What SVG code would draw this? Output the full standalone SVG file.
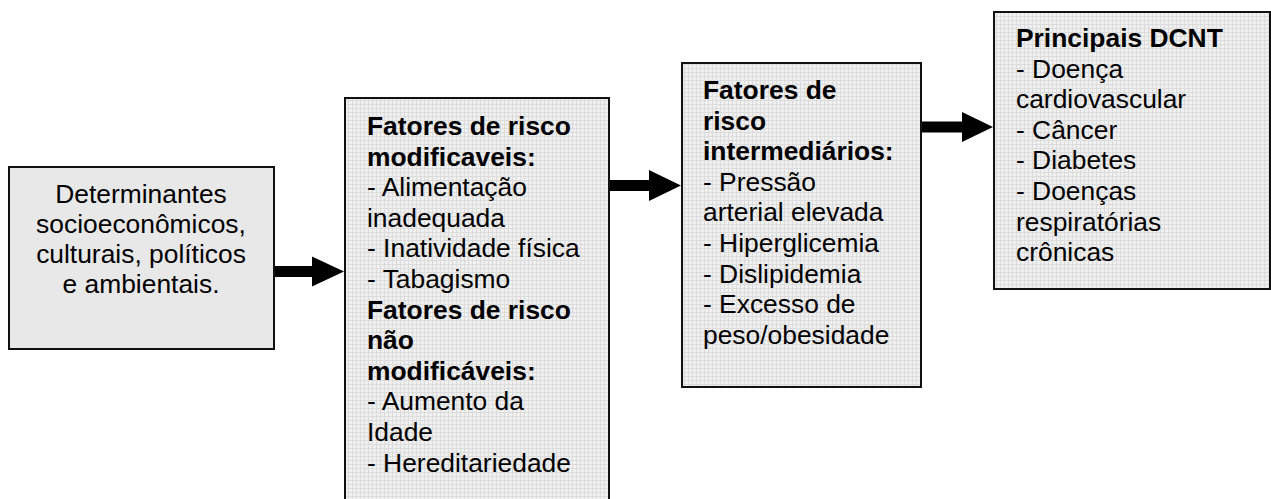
<svg xmlns="http://www.w3.org/2000/svg" width="1271" height="499" viewBox="0 0 1271 499">
<defs>
<pattern id="tex" width="4" height="4" patternUnits="userSpaceOnUse">
<rect width="4" height="4" fill="#f0f0f0"/>
<rect x="0" y="0" width="4" height="1" fill="#dcdcdc"/>
<rect x="0" y="0" width="1" height="4" fill="#dcdcdc"/>
</pattern>
<marker id="ah" markerWidth="32" markerHeight="31" refX="32" refY="15.5" orient="auto" markerUnits="userSpaceOnUse">
<path d="M0,0 L32,15.5 L0,31 Z" fill="#000"/>
</marker>
</defs>
<style>
.box{stroke:#111;stroke-width:2}
.t{font-family:"Liberation Sans",Arial,sans-serif;font-size:26.4px;fill:#000}
.b{font-weight:bold}
.c{text-anchor:middle}
.conn{stroke:#000;stroke-width:11;fill:none}
</style>
<g id="connectors">
<line class="conn" x1="275" y1="271.5" x2="313" y2="271.5"/>
<path d="M312,256.5 L344,271.5 L312,286.5 Z" fill="#000"/>
<line class="conn" x1="610" y1="185.5" x2="650" y2="185.5"/>
<path d="M649,170 L681,185.5 L649,201 Z" fill="#000"/>
<line class="conn" x1="922" y1="127" x2="963" y2="127"/>
<path d="M962,112 L993,127 L962,142 Z" fill="#000"/>
</g>
<g id="node1">
<rect class="box" x="9" y="167" width="265" height="182" fill="#e8e8e8"/>
<text class="t c" x="141" y="203">Determinantes</text>
<text class="t c" x="141" y="233">socioeconômicos,</text>
<text class="t c" x="141" y="263">culturais, políticos</text>
<text class="t c" x="141" y="293">e ambientais.</text>
</g>
<g id="node2">
<rect class="box" x="345" y="98" width="264" height="420" fill="url(#tex)"/>
<text class="t b" x="367" y="135">Fatores de risco</text>
<text class="t b" x="367" y="165.6">modificaveis:</text>
<text class="t" x="367" y="196.2">- Alimentação</text>
<text class="t" x="367" y="226.8">inadequada</text>
<text class="t" x="367" y="257.4">- Inatividade física</text>
<text class="t" x="367" y="288">- Tabagismo</text>
<text class="t b" x="367" y="318.6">Fatores de risco</text>
<text class="t b" x="367" y="349.2">não</text>
<text class="t b" x="367" y="379.8">modificáveis:</text>
<text class="t" x="367" y="410.4">- Aumento da</text>
<text class="t" x="367" y="441">Idade</text>
<text class="t" x="367" y="471.6">- Hereditariedade</text>
</g>
<g id="node3">
<rect class="box" x="682" y="63" width="239" height="324" fill="url(#tex)"/>
<text class="t b" x="703" y="99">Fatores de</text>
<text class="t b" x="703" y="129.6">risco</text>
<text class="t b" x="703" y="160.2">intermediários:</text>
<text class="t" x="703" y="190.8">- Pressão</text>
<text class="t" x="703" y="221.4">arterial elevada</text>
<text class="t" x="703" y="252">- Hiperglicemia</text>
<text class="t" x="703" y="282.6">- Dislipidemia</text>
<text class="t" x="703" y="313.2">- Excesso de</text>
<text class="t" x="703" y="343.8">peso/obesidade</text>
</g>
<g id="node4">
<rect class="box" x="994" y="12" width="276" height="277" fill="url(#tex)"/>
<text class="t b" x="1016" y="47">Principais DCNT</text>
<text class="t" x="1016" y="77.6">- Doença</text>
<text class="t" x="1016" y="108.2">cardiovascular</text>
<text class="t" x="1016" y="138.8">- Câncer</text>
<text class="t" x="1016" y="169.4">- Diabetes</text>
<text class="t" x="1016" y="200">- Doenças</text>
<text class="t" x="1016" y="230.6">respiratórias</text>
<text class="t" x="1016" y="261.2">crônicas</text>
</g>
</svg>
